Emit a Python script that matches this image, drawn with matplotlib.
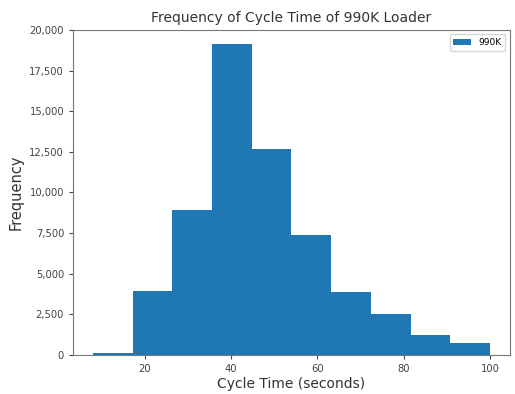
import matplotlib
matplotlib.use('Agg')
from matplotlib import pyplot as plt
from matplotlib.ticker import StrMethodFormatter

# bin edges and counts
bin_edges = [8.0, 17.2, 26.4, 35.6, 44.8, 54.0, 63.2, 72.4, 81.6, 90.8, 100.0]
counts = [150, 3960, 8900, 19140, 12670, 7390, 3860, 2545, 1250, 760]
series_label = '990K'

fig = plt.figure(figsize=(5.15, 3.94), dpi=100)
ax = fig.add_axes([0.142, 0.099, 0.848, 0.825])

# histogram from the counts per bin
ax.hist(bin_edges[:-1], bins=bin_edges, weights=counts, color='#1f77b4', label=series_label)

ax.set_ylim(0, 20000)
ax.yaxis.set_major_formatter(StrMethodFormatter('{x:,.0f}'))
ax.tick_params(labelsize=7.2, colors='#444444', length=3)
ax.set_title('Frequency of Cycle Time of 990K Loader', fontsize=10, color='#333333')
ax.set_xlabel('Cycle Time (seconds)', fontsize=10, color='#333333', labelpad=2)
ax.set_ylabel('Frequency', fontsize=10.5, color='#333333')
ax.legend(loc='upper right', fontsize=6.5)
for s in ax.spines.values():
    s.set_color('#777777')

fig.savefig('out.png', dpi=100)
